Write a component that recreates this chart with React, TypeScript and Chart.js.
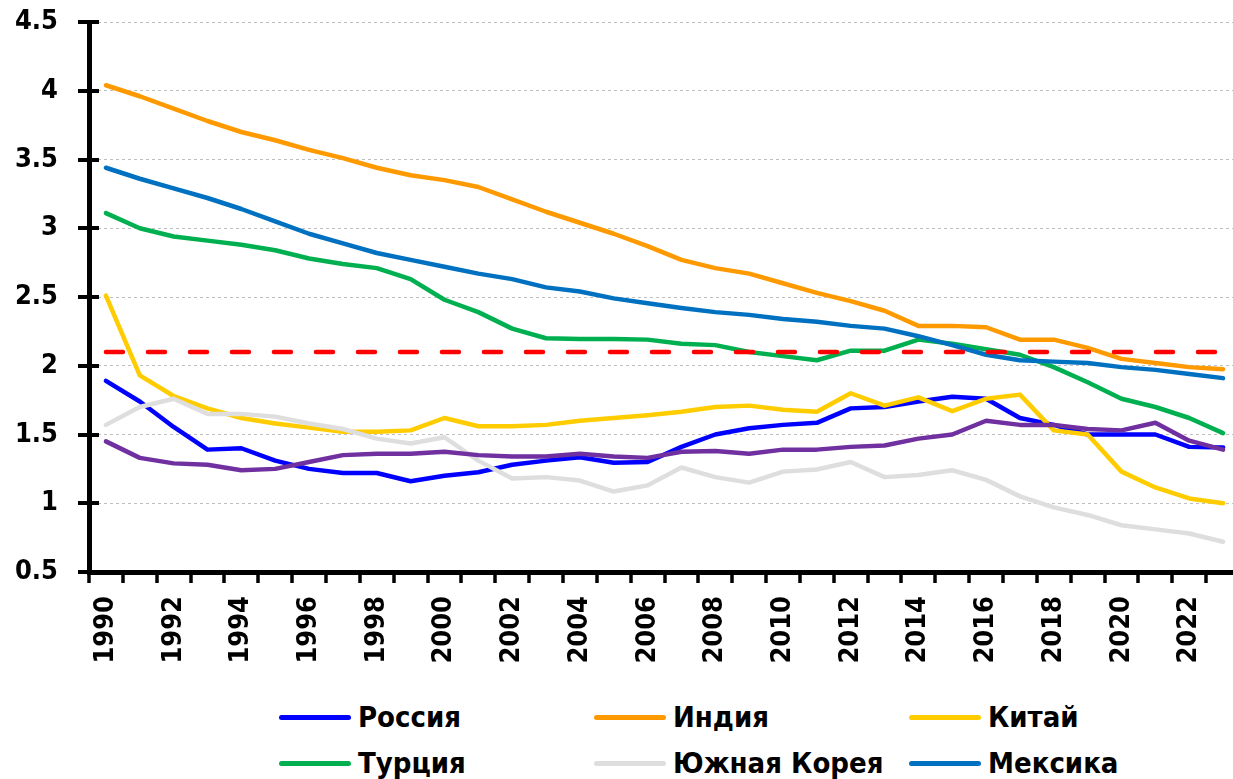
import React, { useEffect, useRef } from "react";
import { Chart, registerables } from "chart.js";

Chart.register(...registerables);

const YEARS = [
  1990, 1991, 1992, 1993, 1994, 1995, 1996, 1997, 1998, 1999,
  2000, 2001, 2002, 2003, 2004, 2005, 2006, 2007, 2008, 2009,
  2010, 2011, 2012, 2013, 2014, 2015, 2016, 2017, 2018, 2019,
  2020, 2021, 2022, 2023,
];

const RUSSIA = [
  1.89, 1.74, 1.555, 1.39, 1.4, 1.31, 1.25, 1.22, 1.22, 1.16,
  1.2, 1.225, 1.28, 1.31, 1.335, 1.295, 1.3, 1.41, 1.5, 1.545,
  1.57, 1.585, 1.69, 1.7, 1.74, 1.775, 1.76, 1.62, 1.57, 1.5,
  1.5, 1.5, 1.41, 1.405,
];

const INDIA = [
  4.04, 3.96, 3.87, 3.78, 3.7, 3.64, 3.57, 3.51, 3.44, 3.385,
  3.35, 3.3, 3.21, 3.12, 3.04, 2.96, 2.87, 2.77, 2.71, 2.67,
  2.6, 2.53, 2.47, 2.4, 2.29, 2.29, 2.28, 2.19, 2.19, 2.13,
  2.05, 2.02, 1.99, 1.975,
];

const CHINA = [
  2.51, 1.93, 1.78, 1.69, 1.62, 1.58, 1.55, 1.52, 1.52, 1.53,
  1.62, 1.56, 1.56, 1.57, 1.6, 1.62, 1.64, 1.665, 1.7, 1.71,
  1.68, 1.665, 1.8, 1.71, 1.77, 1.67, 1.76, 1.79, 1.53, 1.5,
  1.23, 1.115, 1.035, 1.0,
];

const TURKEY = [
  3.11, 3.0, 2.94, 2.91, 2.88, 2.84, 2.78, 2.74, 2.71, 2.63,
  2.48, 2.39, 2.27, 2.2, 2.195, 2.195, 2.19, 2.16, 2.15, 2.1,
  2.07, 2.04, 2.11, 2.11, 2.19, 2.16, 2.12, 2.08, 1.99, 1.88,
  1.76, 1.7, 1.62, 1.51,
];

const KOREA = [
  1.57, 1.7, 1.76, 1.65, 1.65, 1.63, 1.58, 1.54, 1.47, 1.435,
  1.48, 1.31, 1.18, 1.19, 1.165, 1.085, 1.13, 1.26, 1.19, 1.15,
  1.23, 1.245, 1.3, 1.19, 1.205, 1.24, 1.17, 1.05, 0.97, 0.915,
  0.84, 0.81, 0.78, 0.72,
];

const MEXICO = [
  3.44, 3.36, 3.29, 3.22, 3.14, 3.05, 2.96, 2.89, 2.82, 2.77,
  2.72, 2.67, 2.63, 2.57, 2.54, 2.49, 2.455, 2.42, 2.39, 2.37,
  2.34, 2.32, 2.29, 2.27, 2.215, 2.15, 2.08, 2.04, 2.03, 2.02,
  1.99, 1.97, 1.94, 1.91,
];

const OTHER = [
  1.45, 1.33, 1.29, 1.28, 1.24, 1.25, 1.3, 1.35, 1.36, 1.36,
  1.375, 1.35, 1.34, 1.34, 1.36, 1.34, 1.33, 1.375, 1.38, 1.36,
  1.39, 1.39, 1.41, 1.42, 1.47, 1.5, 1.6, 1.57, 1.57, 1.54,
  1.53, 1.585, 1.455, 1.39,
];

const REPLACEMENT_LEVEL = 2.1;

const Y_MIN = 0.5;
const Y_MAX = 4.5;
const Y_STEP = 0.5;

const SERIES = [
  { label: "Россия", data: RUSSIA, color: "#0000FF", order: 7, legend: true },
  { label: "Индия", data: INDIA, color: "#FF9900", order: 6, legend: true },
  { label: "Китай", data: CHINA, color: "#FFCC00", order: 5, legend: true },
  { label: "Турция", data: TURKEY, color: "#00B050", order: 4, legend: true },
  { label: "Южная Корея", data: KOREA, color: "#DEDEDE", order: 3, legend: true },
  { label: "Мексика", data: MEXICO, color: "#0070C0", order: 2, legend: true },
  { label: "", data: OTHER, color: "#7030A0", order: 1, legend: false },
];

const FONT = '"DejaVu Sans Condensed", "DejaVu Sans", sans-serif';
const CANVAS_W = 1240;
const CANVAS_H = 680;
const AXIS_LEFT = 89;
const AXIS_BOTTOM = 572;
const TOP_PAD = 22;

const axisTicksPlugin = {
  id: "axisTicks",
  afterDraw(chart: any) {
    const { ctx, chartArea, scales } = chart;
    const x = scales.x;
    const y = scales.y;
    ctx.save();
    ctx.strokeStyle = "#000";
    ctx.lineCap = "butt";
    ctx.lineWidth = 4;
    y.ticks.forEach((_: any, i: number) => {
      const py = Math.round(y.getPixelForTick(i));
      ctx.beginPath();
      ctx.moveTo(chartArea.left - 11, py);
      ctx.lineTo(chartArea.left + 10, py);
      ctx.stroke();
    });
    const n = x.ticks.length;
    const step = x.getPixelForValue(1) - x.getPixelForValue(0);
    ctx.lineWidth = 3.5;
    for (let i = 0; i <= n; i++) {
      const px = Math.round(x.getPixelForValue(0) - step / 2 + i * step);
      ctx.beginPath();
      ctx.moveTo(px, chartArea.bottom);
      ctx.lineTo(px, chartArea.bottom + 11);
      ctx.stroke();
    }
    ctx.restore();
  },
};

function ChartCanvas() {
  const ref = useRef<HTMLCanvasElement | null>(null);

  useEffect(() => {
    if (!ref.current) return;
    const datasets: any[] = SERIES.map((s) => ({
      label: s.label,
      data: s.data,
      borderColor: s.color,
      backgroundColor: s.color,
      borderWidth: 4.5,
      pointRadius: 0,
      tension: 0,
      borderJoinStyle: "round",
      borderCapStyle: "round",
      order: s.order,
    }));
    datasets.push({
      label: "",
      data: YEARS.map(() => REPLACEMENT_LEVEL),
      borderColor: "#FF0000",
      backgroundColor: "#FF0000",
      borderWidth: 4.5,
      borderDash: [17, 25],
      borderCapStyle: "round",
      pointRadius: 0,
      order: 0,
    });

    const chart = new Chart(ref.current, {
      type: "line",
      data: { labels: YEARS.map(String), datasets },
      plugins: [axisTicksPlugin],
      options: {
        animation: false,
        responsive: false,
        maintainAspectRatio: false,
        layout: { padding: { top: TOP_PAD, left: 0, right: 0, bottom: 0 } },
        plugins: {
          legend: { display: false },
          tooltip: { enabled: false },
        },
        scales: {
          x: {
            type: "category",
            offset: true,
            grid: { display: false, drawTicks: false },
            border: { display: true, color: "#000", width: 5 },
            ticks: {
              autoSkip: false,
              maxRotation: 90,
              minRotation: 90,
              padding: 24,
              color: "#000",
              font: { family: FONT, size: 27, weight: "bold" },
              callback: (_v: any, i: number) =>
                YEARS[i] % 2 === 0 ? String(YEARS[i]) : "",
            },
            afterFit: (scale: any) => {
              scale.height = CANVAS_H - AXIS_BOTTOM;
              scale.paddingLeft = 0;
              scale.paddingRight = 0;
            },
          },
          y: {
            min: Y_MIN,
            max: Y_MAX,
            grid: { color: "#BFBFBF", lineWidth: 1, drawTicks: false },
            border: { display: true, color: "#000", width: 5, dash: [3, 3] },
            ticks: {
              stepSize: Y_STEP,
              padding: 31,
              color: "#000",
              font: { family: FONT, size: 27, weight: "bold" },
              callback: (v: any) => String(v),
            },
            afterFit: (scale: any) => {
              scale.width = AXIS_LEFT;
              scale.paddingTop = 0;
              scale.paddingBottom = 0;
            },
          },
        },
      },
    });
    return () => chart.destroy();
  }, []);

  return (
    <canvas
      ref={ref}
      width={CANVAS_W}
      height={CANVAS_H}
      style={{ display: "block", width: CANVAS_W, height: CANVAS_H }}
    />
  );
}

function Legend() {
  const items = SERIES.filter((s) => s.legend);
  return (
    <div
      style={{
        position: "absolute",
        left: 279,
        top: 694,
        display: "grid",
        gridTemplateColumns: "315px 315px 315px",
        gridAutoRows: "46px",
        fontFamily: FONT,
        fontWeight: "bold",
        fontSize: 29,
        color: "#000",
      }}
    >
      {items.map((s) => (
        <div key={s.label} style={{ display: "flex", alignItems: "center", whiteSpace: "nowrap" }}>
          <span
            style={{
              display: "inline-block",
              width: 72,
              height: 5,
              borderRadius: 3,
              background: s.color,
              marginRight: 7,
            }}
          />
          <span>{s.label}</span>
        </div>
      ))}
    </div>
  );
}

export default function App() {
  return (
    <div
      style={{
        position: "absolute",
        left: 0,
        top: 0,
        width: 1233,
        height: 779,
        overflow: "hidden",
        background: "#fff",
      }}
    >
      <ChartCanvas />
      <Legend />
    </div>
  );
}
